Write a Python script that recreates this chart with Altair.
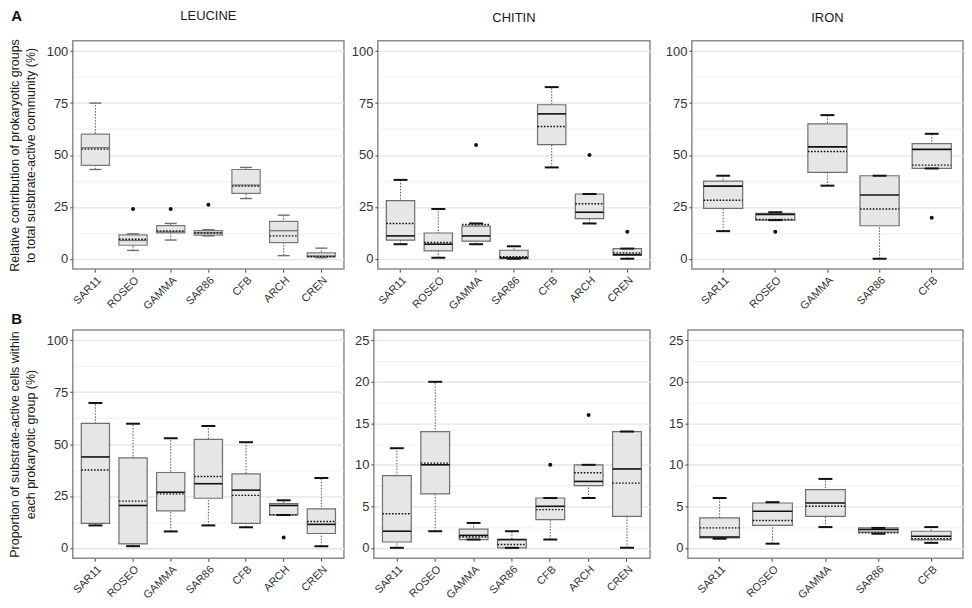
import altair as alt
import pandas as pd

FONT = "Liberation Sans"

GROUPS7 = ["SAR11", "ROSEO", "GAMMA", "SAR86", "CFB", "ARCH", "CREN"]
GROUPS5 = ["SAR11", "ROSEO", "GAMMA", "SAR86", "CFB"]

# ---- A: relative contribution (%) ----
A_LEU_LOW = [43, 4, 9, 11, 29, 1.5, 0.5]
A_LEU_Q1 = [45, 6.5, 12.5, 11.4, 31.5, 7.8, 0.9]
A_LEU_MED = [53.5, 8.8, 13, 12.5, 35.5, 13.5, 1.3]
A_LEU_Q3 = [60, 11.5, 16, 13.5, 43, 18, 2.8]
A_LEU_HIGH = [75, 12, 17, 14, 44, 21, 5.1]
A_LEU_MEAN = [52.8, 9.4, 13.4, 12.4, 35, 11, 1.1]
A_LEU_OUT_GROUP = ["ROSEO", "GAMMA", "SAR86"]
A_LEU_OUT_VALUE = [24, 24, 26]

A_CHI_LOW = [7, 0.5, 7, 0, 44, 17, 0]
A_CHI_Q1 = [9, 3.8, 8.5, 0, 55, 19.3, 1.6]
A_CHI_MED = [11, 7, 11, 0.4, 69.8, 22.4, 2]
A_CHI_Q3 = [28, 12.4, 15.7, 4.1, 74.2, 31.2, 4.9]
A_CHI_HIGH = [38, 24, 17, 6, 82.7, 31.2, 4.9]
A_CHI_MEAN = [17, 7.8, 16.5, 1, 63.7, 26.5, 2.8]
A_CHI_OUT_GROUP = ["GAMMA", "ARCH", "CREN"]
A_CHI_OUT_VALUE = [54.8, 50, 13]

A_IRO_LOW = [13.3, 18.6, 35.2, 0, 43.5]
A_IRO_Q1 = [24.3, 18.6, 41.6, 15.9, 43.5]
A_IRO_MED = [35, 21.3, 53.9, 30.7, 52.7]
A_IRO_Q3 = [37.4, 21.9, 65, 40, 55.5]
A_IRO_HIGH = [40, 22.4, 69.2, 40, 60.2]
A_IRO_MEAN = [28.2, 18.9, 51.7, 24, 45.1]
A_IRO_OUT_GROUP = ["ROSEO", "CFB"]
A_IRO_OUT_VALUE = [13, 19.8]

# ---- B: proportion of substrate-active cells (%) ----
B_LEU_LOW = [10.8, 0.8, 7.9, 10.8, 9.9, 15.8, 0.8]
B_LEU_Q1 = [11.8, 1.9, 17.8, 23.9, 11.8, 15.8, 6.9]
B_LEU_MED = [43.8, 20.4, 26.8, 30.9, 27.8, 20.4, 11.3]
B_LEU_Q3 = [60, 43.3, 36.3, 52.3, 35.6, 21.3, 18.8]
B_LEU_HIGH = [69.8, 59.8, 52.8, 58.7, 50.9, 22.9, 33.7]
B_LEU_MEAN = [37.5, 22.5, 26, 34.4, 25.3, 16, 12.7]
B_LEU_OUT_GROUP = ["ARCH"]
B_LEU_OUT_VALUE = [5]

B_CHI_LOW = [0, 2, 1, 0, 1, 6, 0]
B_CHI_Q1 = [0.7, 6.5, 1, 0, 3.4, 7.5, 3.8]
B_CHI_MED = [2, 10, 1.5, 1, 5, 8, 9.5]
B_CHI_Q3 = [8.7, 14, 2.25, 1, 6, 10, 14]
B_CHI_HIGH = [12, 20, 3, 2, 6, 10, 14]
B_CHI_MEAN = [4.1, 10.2, 1.3, 0.4, 4.6, 9.05, 7.8]
B_CHI_OUT_GROUP = ["CFB", "ARCH"]
B_CHI_OUT_VALUE = [10, 16]

B_IRO_LOW = [1.1, 0.5, 2.5, 1.7, 0.6]
B_IRO_Q1 = [1.2, 2.7, 3.8, 1.9, 0.95]
B_IRO_MED = [1.3, 4.4, 5.4, 2.2, 1.4]
B_IRO_Q3 = [3.6, 5.4, 7, 2.4, 2.0]
B_IRO_HIGH = [6, 5.5, 8.3, 2.4, 2.5]
B_IRO_MEAN = [2.4, 3.3, 5, 1.8, 1.1]

YTITLE_A = ["Relative contribution of prokaryotic groups",
            "to total susbtrate-active community (%)"]
YTITLE_B = ["Proportion of substrate-active cells within",
            "each prokaryotic group (%)"]


def panel(groups, low, q1, med, q3, high, mean, out_g, out_v, *, ymax, major,
          width, height, extent, ytitle=None, title=None, light=False):
    df = pd.DataFrame({"group": groups, "low": low, "q1": q1, "med": med,
                       "q3": q3, "high": high, "mean": mean})
    minor = major / 2
    vals = [i * minor for i in range(int(round(ymax / minor)) + 1)]
    test = f"datum.value % {major} === 0"
    yscale = alt.Scale(domain=[-0.05 * ymax, 1.05 * ymax], nice=False, zero=False)
    yaxis = alt.Axis(
        values=vals,
        labelExpr=f"{test} ? datum.label : ''",
        gridWidth={"condition": {"test": test, "value": 1.3}, "value": 0.6},
        tickOpacity={"condition": {"test": test, "value": 1}, "value": 0},
        minExtent=extent, maxExtent=extent,
        titlePadding=9, titleFontSize=12.5, titleLineHeight=16,
        titleFontWeight="normal",
    )
    xscale = alt.Scale(domain=groups, paddingInner=0.25, paddingOuter=0.225)
    xaxis = alt.Axis(labelAngle=-45, labelAlign="right", labelBaseline="top",
                     bandPosition=0.5, labelPadding=2)

    def xe(bp=None):
        if bp is None:
            return alt.X("group:N", scale=xscale, axis=xaxis, title=None)
        return alt.X("group:N", scale=xscale, axis=xaxis, title=None, bandPosition=bp)

    def ye(field):
        return alt.Y(f"{field}:Q", scale=yscale, axis=yaxis, title=ytitle)

    base = alt.Chart(df)
    whisk = base.mark_rule(color="#555555", strokeDash=[1.5, 1.5], strokeWidth=1).encode(
        x=xe(), y=ye("low"), y2="high:Q")
    box = base.mark_bar(fill="#e6e6e6", stroke="#6e6e6e" if not light else "#7a7a7a",
                        strokeWidth=1.2).encode(x=xe(), y=ye("q1"), y2="q3:Q")
    med_color = "#6e6e6e" if light else "#111111"
    median = base.mark_rule(color=med_color, strokeWidth=1.2 if light else 1.6).encode(
        x=xe(0), x2=alt.X2("group", bandPosition=1), y=ye("med"))
    meanl = base.mark_rule(color="#111111", strokeDash=[1.6, 1.6], strokeWidth=1.4).encode(
        x=xe(0), x2=alt.X2("group", bandPosition=1), y=ye("mean"))
    cap_color = "#6e6e6e" if light else "#111111"
    cap_kw = dict(size=12 if light else 14, thickness=1.4 if light else 2,
                  color=cap_color, opacity=1)
    cap_lo = base.mark_tick(**cap_kw).encode(x=xe(), y=ye("low"))
    cap_hi = base.mark_tick(**cap_kw).encode(x=xe(), y=ye("high"))
    layers = [whisk, box, median, meanl, cap_lo, cap_hi]
    if out_g:
        odf = pd.DataFrame({"group": out_g, "value": out_v})
        layers.append(alt.Chart(odf).mark_circle(size=16, color="#111111", opacity=1).encode(
            x=xe(), y=ye("value")))
    ch = alt.layer(*layers).properties(width=width, height=height)
    if title:
        ch = ch.properties(title=alt.TitleParams(
            text=title, font=FONT, fontSize=13, fontWeight="normal", color="#1a1a1a",
            anchor="middle", frame="group", offset=16))
    return ch


H = 229
a1 = panel(GROUPS7, A_LEU_LOW, A_LEU_Q1, A_LEU_MED, A_LEU_Q3, A_LEU_HIGH, A_LEU_MEAN,
           A_LEU_OUT_GROUP, A_LEU_OUT_VALUE, ymax=100, major=25, width=272, height=H,
           extent=26, ytitle=YTITLE_A, title="LEUCINE", light=True)
a2 = panel(GROUPS7, A_CHI_LOW, A_CHI_Q1, A_CHI_MED, A_CHI_Q3, A_CHI_HIGH, A_CHI_MEAN,
           A_CHI_OUT_GROUP, A_CHI_OUT_VALUE, ymax=100, major=25, width=273, height=H,
           extent=32, ytitle=None, title="CHITIN")
a3 = panel(GROUPS5, A_IRO_LOW, A_IRO_Q1, A_IRO_MED, A_IRO_Q3, A_IRO_HIGH, A_IRO_MEAN,
           A_IRO_OUT_GROUP, A_IRO_OUT_VALUE, ymax=100, major=25, width=272, height=H,
           extent=40, ytitle=None, title="IRON")
b1 = panel(GROUPS7, B_LEU_LOW, B_LEU_Q1, B_LEU_MED, B_LEU_Q3, B_LEU_HIGH, B_LEU_MEAN,
           B_LEU_OUT_GROUP, B_LEU_OUT_VALUE, ymax=100, major=25, width=272, height=H,
           extent=26, ytitle=YTITLE_B)
b2 = panel(GROUPS7, B_CHI_LOW, B_CHI_Q1, B_CHI_MED, B_CHI_Q3, B_CHI_HIGH, B_CHI_MEAN,
           B_CHI_OUT_GROUP, B_CHI_OUT_VALUE, ymax=25, major=5, width=277, height=H,
           extent=28, ytitle=None)
b3 = panel(GROUPS5, B_IRO_LOW, B_IRO_Q1, B_IRO_MED, B_IRO_Q3, B_IRO_HIGH, B_IRO_MEAN,
           [], [], ymax=25, major=5, width=276, height=H, extent=36, ytitle=None)

letter_kw = dict(font=FONT, fontSize=15, fontWeight="bold", color="#111111",
                 anchor="start", frame="bounds", dx=3)
top = alt.hconcat(a1, a2, a3, spacing=0,
                  title=alt.TitleParams(text="A", offset=-15, **letter_kw))
bottom = alt.hconcat(b1, b2, b3, spacing=0,
                     title=alt.TitleParams(text="B", offset=2, **letter_kw))

chart = alt.vconcat(top, bottom, spacing=0).properties(
    padding={"left": 0, "top": 0, "right": 0, "bottom": 0}
).configure_view(
    stroke="#8c8c8c", strokeWidth=1.5
).configure_axis(
    labelFont=FONT, titleFont=FONT, labelColor="#333333", titleColor="#1a1a1a",
    gridColor="#e4e4e4", tickColor="#444444", tickSize=3, domain=False,
).configure_axisX(
    labelFontSize=11,
).configure_axisY(
    labelFontSize=13, labelPadding=2,
)

chart.save("out.html", embed_options={"renderer": "svg", "actions": False})
